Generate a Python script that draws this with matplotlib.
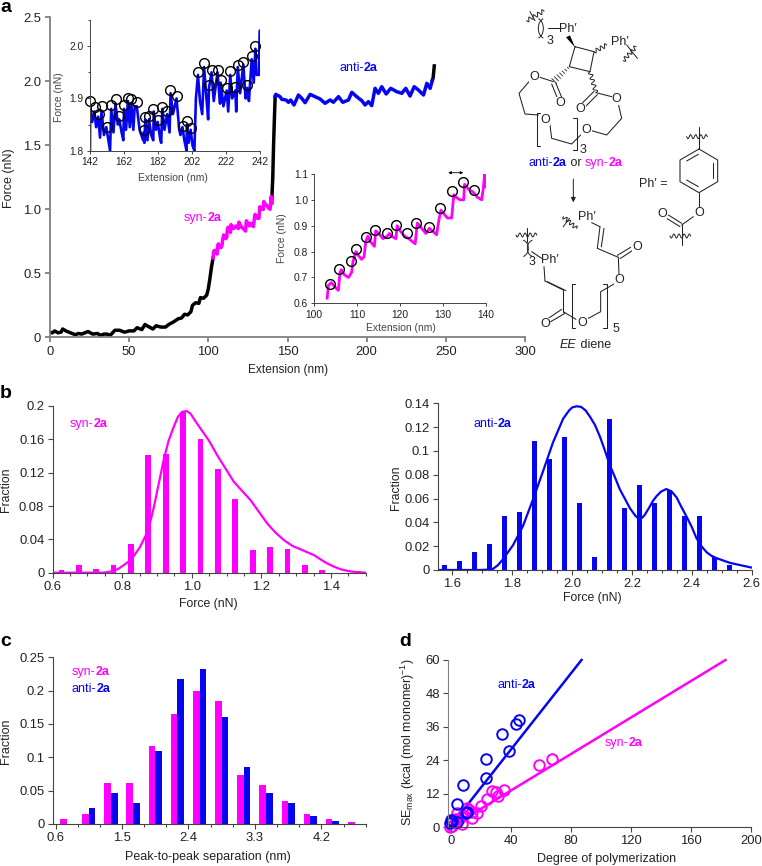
import numpy as np
import matplotlib
matplotlib.use("Agg")
import matplotlib.pyplot as plt
from matplotlib.ticker import MultipleLocator, FixedLocator, FuncFormatter
from matplotlib.transforms import Affine2D
from matplotlib.patches import Polygon, Arc

plt.rcParams['font.family'] = ['Liberation Sans', 'DejaVu Sans']
plt.rcParams['mathtext.fontset'] = 'custom'
plt.rcParams['mathtext.rm'] = 'Liberation Sans'
plt.rcParams['mathtext.it'] = 'Liberation Sans:italic'
plt.rcParams['mathtext.bf'] = 'Liberation Sans:bold'

W, H = 762, 866
MAG = '#FF00FF'
BLU = '#0505F0'
TXT = '#222222'
GRY = '#808080'
DRK = '#444444'

# ---------- panel a data ----------
trace_black1 = [(0,.04),(1.5,.035),(3,.05),(5,.035),(7,.04),(8,.065),(10,.05),(12,.04),(14,.03),(16,.02),(18,.03),(20,.025),
 (22,.035),(24,.045),(27,.025),(30,.03),(32,.015),(34,.025),(36,.025),(38,.015),(41,.055),(44,.055),(47,.04),(50,.05),
 (53,.05),(55,.075),(58,.06),(60,.1),(62,.085),(65,.065),(67,.09),(70,.08),(73,.08),(75,.1),(78,.12),(81,.145),(83,.15),
 (85,.18),(87,.175),(89,.2),(90,.25),(92,.27),(94,.265),(95,.31),(97,.305),(99,.33),(100,.38),(101,.46),(102,.55),(103,.62)]
trace_syn = [(103,.62),(103.3,.67),(104,.68),(105,.66),(105.6,.65),(106,.72),(106.3,.73),(107,.71),(108,.70),(108.7,.72),
 (109,.76),(109.7,.80),(110,.79),(111,.77),(111.6,.78),(112,.84),(112.5,.86),(113,.84),(114,.82),(114.3,.88),(115,.87),
 (116,.85),(117,.86),(117.5,.87),(118,.86),(119,.85),(119.3,.90),(120,.88),(121,.86),(122,.85),(123.5,.83),(124,.91),
 (125,.89),(126,.87),(126.8,.89),(127.5,.88),(128.5,.865),(129,.92),(129.5,.96),(130,.95),(131,.93),(132,.93),(132.5,1.02),
 (133,1.01),(134,1.0),(134.8,1.0),(135,1.06),(136,1.04),(137,1.03),(138,1.01),(139,1.0),(139.4,1.05),(139.7,1.10),(140,1.05)]
trace_black2 = [(140,1.05),(140.7,1.25),(141.2,1.5),(141.7,1.7),(142.2,1.88)]
trace_anti = [(142.2,1.88),(142.6,1.898),(145.3,1.88),(146.4,1.859),(149.1,1.854),(150.6,1.836),(152,1.854),(154.1,1.815),
 (156.9,1.893),(159,1.867),(161.1,1.833),(164.3,1.898),(167.4,1.88),(170.6,1.862),(173.7,1.828),(176.9,1.854),(179,1.836),
 (182.2,1.88),(184.9,1.836),(188.5,1.854),(190.6,1.914),(193.7,1.88),(196.9,1.849),(199,1.815),(201.1,1.841),(203.2,1.81),
 (205.3,1.945),(207.4,1.906),(209.5,1.958),(212.3,1.901),(215.2,1.945),(219,1.919),(222.2,1.906),(224.7,1.945),(227.4,1.885),
 (230,1.958),(232.7,1.932),(235.9,1.893),(238,1.984),(240.1,1.945),(241.5,2.01)]
trace_black3 = [(241.5,2.01),(242,2.03),(242.7,2.12)]

inset1_trace = [(142,1.80),(142.1,1.885),(143.3,1.855),(144.6,1.875),(145.6,1.845),(146.8,1.865),(147.9,1.825),(148.8,1.875),
 (150.2,1.83),(151.6,1.845),(153.8,1.80),(154.5,1.88),(155.8,1.835),(157,1.89),(158.4,1.85),(159.2,1.86),(160.6,1.835),
 (161.6,1.82),(162,1.88),(163.2,1.84),(164.3,1.895),(165.4,1.845),(166.3,1.89),(167.5,1.84),(168.3,1.885),(169.5,1.885),
 (171.2,1.84),(173.2,1.82),(173.6,1.835),(174,1.815),(174.5,1.86),(175.8,1.82),(176.7,1.86),(178,1.83),(179.2,1.82),
 (179.5,1.875),(180.8,1.84),(181.8,1.855),(183.4,1.82),(183.9,1.815),(184.5,1.88),(185.8,1.84),(187.4,1.87),(188.8,1.835),
 (189.4,1.91),(190.8,1.87),(192.9,1.90),(194.5,1.84),(195.2,1.83),(196.4,1.845),(197.5,1.82),(198.8,1.80),(199,1.85),
 (200,1.815),(201.2,1.84),(202.3,1.81),(203.4,1.80),(204.3,1.90),(205.5,1.945),(206.7,1.895),(208,1.87),(209.1,1.96),
 (210.5,1.90),(211.5,1.86),(212,1.92),(213.5,1.95),(214.8,1.895),(217,1.95),(218.5,1.89),(218.9,1.93),(220.5,1.885),
 (222.4,1.915),(223.3,1.875),(224.5,1.945),(225.6,1.90),(227.5,1.915),(228,1.875),(228.9,1.96),(230.3,1.91),(232.2,1.965),
 (233.5,1.90),(234.5,1.92),(235.5,1.895),(237.1,1.975),(238.3,1.93),(239.3,1.995),(240,1.945),(241.5,1.945),(242,2.03),(242,1.96)]
inset1_x = [142,144.9,147.1,148.9,151.8,154.5,157.1,159.3,162,164.4,166.3,169.5,173.6,174.5,176.7,179.1,181.8,184.5,187.5,
 189.3,193,196.5,198.9,201.2,205.5,209.1,212,213.6,217.1,218.9,222.4,224.5,227.5,228.9,232.2,234.5,237.1,239.3]
inset1_y = [1.895,1.883,1.870,1.885,1.846,1.887,1.898,1.867,1.888,1.901,1.898,1.894,1.839,1.864,1.866,1.880,1.858,1.884,1.876,
 1.917,1.905,1.847,1.857,1.843,1.951,1.967,1.925,1.954,1.955,1.936,1.920,1.952,1.921,1.964,1.969,1.925,1.981,2.000]
inset1_xticks = [142, 162, 182, 202, 222, 242]
inset2_x = [103.6,105.8,108.5,109.6,112,114.1,116.9,119,121.7,123.8,126.7,129.3,132,134.7,137.3]
inset2_y = [.673,.731,.765,.811,.856,.884,.871,.903,.873,.912,.894,.967,1.033,1.07,1.038]

# ---------- panel b data ----------
syn_bin = [.625,.675,.725,.775,.825,.875,.925,.975,1.025,1.075,1.125,1.175,1.225,1.275,1.325,1.375,1.475]
syn_frac = [.003,.009,.005,.009,.035,.141,.143,.193,.16,.125,.088,.027,.031,.029,.009,.003,.002]
syn_cx = [.6,.746,.775,.79,.804,.82,.833,.85,.868,.88,.89,.905,.919,.933,.948,.96,.972,.985,.996,1.01,1.025,1.05,1.073,1.097,1.121,1.145,
 1.169,1.193,1.217,1.241,1.265,1.29,1.313,1.335,1.352,1.37,1.39,1.41,1.429,1.45,1.467,1.5]
syn_cy = [0,0,.002,.005,.009,.014,.02,.03,.045,.06,.077,.107,.135,.158,.175,.187,.193,.194,.191,.182,.173,.158,.141,.125,.109,.098,
 .087,.073,.059,.048,.039,.032,.028,.024,.021,.016,.011,.007,.004,.002,.001,0]
anti_bin = [1.575,1.625,1.675,1.725,1.775,1.825,1.875,1.925,1.975,2.025,2.075,2.125,2.175,2.225,2.275,2.325,2.375,2.425,2.475,2.525]
anti_frac = [.004,.0075,.015,.022,.045,.0485,.108,.093,.112,.056,.011,.127,.052,.071,.056,.067,.045,.045,.011,.004]
anti_cx = [1.552,1.691,1.72,1.736,1.752,1.769,1.803,1.836,1.869,1.903,1.936,1.97,1.99,2.0,2.015,2.03,2.045,2.059,2.076,2.093,2.11,2.126,2.143,
 2.159,2.176,2.193,2.21,2.226,2.242,2.259,2.27,2.282,2.298,2.315,2.332,2.349,2.365,2.382,2.4,2.415,2.432,2.449,2.465,2.482,2.527,2.6]
anti_cy = [0,0,.0003,.001,.004,.009,.021,.037,.059,.083,.107,.127,.134,.1365,.1375,.137,.134,.129,.122,.112,.1,.088,.078,
 .068,.06,.052,.046,.042,.046,.053,.058,.062,.066,.068,.066,.061,.053,.045,.036,.027,.02,.015,.012,.01,.006,.002]

# ---------- panel c data ----------
sep_bin = [.75,1.05,1.35,1.65,1.95,2.25,2.55,2.85,3.15,3.45,3.75,4.05,4.35,4.65]
sep_syn = [.007,.015,.061,.061,.117,.165,.199,.184,.074,.059,.035,.015,.007,.003]
sep_anti = [0,.024,.047,.032,.109,.218,.233,.160,.086,.047,.032,.012,.004,0]

# ---------- panel d data ----------
dp_anti = [-.5,0,.5,4.2,4.2,8.2,10.9,10,23.3,23.3,34,38.4,43,45.5]
se_anti = [1.3,2.5,2,1.9,8.1,15,5.5,5,17.5,24.3,33.3,27.3,36.9,38.4]
dp_syn = [-.5,.5,1.5,3.3,4.2,5.5,7,8.2,9,10.9,12,13.8,13.8,17.5,20,24,27,30,31.5,35.3,58.7,67.5]
se_syn = [0,.2,2.5,3,5.1,3,1,4.3,5.5,6.7,6,3.4,5.5,4.9,7.7,10.2,13,12.5,11.3,13.2,22.3,24.5]
fit_dp_anti = [0,87]
fit_se_anti = [.5,60]
fit_dp_syn = [0,183]
fit_se_syn = [0,60]

fig = plt.figure(figsize=(W/100, H/100), dpi=100)
px = Affine2D().scale(1/W, -1/H).translate(0, 1) + fig.transFigure


def axpx(l, t, r, b, **kw):
    ax = fig.add_axes([l/W, 1-b/H, (r-l)/W, (b-t)/H], **kw)
    ax.patch.set_alpha(0)
    return ax


def style(ax, size=9.4, spine=DRK, lw=0.8, tl=3.5, pad=2.5, col=TXT):
    for s in ('top', 'right'):
        ax.spines[s].set_visible(False)
    for s in ('left', 'bottom'):
        ax.spines[s].set_color(spine)
        ax.spines[s].set_linewidth(lw)
    ax.tick_params(which='major', direction='out', length=tl, width=lw, color=spine, labelsize=size, labelcolor=col, pad=pad)
    ax.tick_params(which='minor', direction='out', length=tl*0.7, width=lw, color=spine)


def labels(ax, xl, xpos, yl, ypos, size=9, col=TXT, xsize=None):
    ax.set_xlabel(xl, fontsize=xsize or size, color=col, ha='center', va='center')
    ax.xaxis.set_label_coords(xpos[0], xpos[1], transform=px)
    ax.set_ylabel(yl, fontsize=size, color=col, ha='center', va='center')
    ax.yaxis.set_label_coords(ypos[0], ypos[1], transform=px)


def plot_trace(ax, pts, color, lw):
    a = np.array(pts)
    ax.plot(a[:, 0], a[:, 1], color=color, lw=lw, solid_joinstyle='round')


def mixed(x, y, parts, size=9, rotation=0):
    """parts: list of (text, colour, bold, italic) laid end to end, x,y in pixels."""
    r = fig.canvas.get_renderer()
    for s, c, b, i in parts:
        t = fig.text(x/W, 1-y/H, s, color=c, fontsize=size, fontweight='bold' if b else 'normal',
                     fontstyle='italic' if i else 'normal', ha='left', va='center', zorder=20)
        x = t.get_window_extent(r).x1


def one_dec(v, _):
    return f'{v:.1f}'


def trim(v, _):
    return '0' if abs(v) < 1e-9 else f'{v:g}'


# ---------- a main ----------
ax = axpx(50, 17.3, 525, 337.3)
style(ax, spine=GRY, lw=1.3, tl=3.5, pad=3)
ax.set_xlim(0, 300); ax.set_ylim(0, 2.5)
ax.xaxis.set_major_locator(MultipleLocator(50))
ax.yaxis.set_major_locator(MultipleLocator(0.5))
ax.yaxis.set_major_formatter(FuncFormatter(lambda v, _: '0' if v == 0 else f'{v:.1f}'))
plot_trace(ax, trace_black1, 'black', 2.5)
plot_trace(ax, trace_black2, 'black', 2.5)
plot_trace(ax, trace_black3, 'black', 2.5)
plot_trace(ax, trace_syn, MAG, 2.5)
plot_trace(ax, trace_anti, BLU, 2.5)
labels(ax, 'Extension (nm)', (288, 370), 'Force (nN)', (9, 178), size=9, xsize=8.6)

# ---------- a inset 1 ----------
ax = axpx(90, 20, 260, 150.7)
style(ax, size=7.4, spine=DRK, lw=0.7, tl=2.5, pad=2)
ax.set_xlim(142, 242); ax.set_ylim(1.8, 2.05)
ax.xaxis.set_major_locator(FixedLocator(inset1_xticks))
ax.yaxis.set_major_locator(FixedLocator([1.8, 1.9, 2.0]))
ax.yaxis.set_minor_locator(FixedLocator([1.85, 1.95, 2.05]))
plot_trace(ax, inset1_trace, BLU, 1.9)
ax.plot(inset1_x, inset1_y, 'o', mfc='none', mec='black', mew=1.0, ms=7, clip_on=False)
labels(ax, 'Extension (nm)', (173, 178), 'Force (nN)', (59, 97), size=7.5, col=DRK)

# ---------- a inset 2 ----------
ax = axpx(314.3, 174, 486, 303.3)
style(ax, size=7.4, spine=DRK, lw=0.7, tl=2.5, pad=2)
ax.set_xlim(100, 140); ax.set_ylim(0.6, 1.1)
ax.xaxis.set_major_locator(MultipleLocator(10))
ax.yaxis.set_major_locator(MultipleLocator(0.1))
plot_trace(ax, trace_syn, MAG, 2.0)
ax.plot(inset2_x, inset2_y, 'o', mfc='none', mec='black', mew=1.0, ms=7, clip_on=False)
ax.annotate('', xy=(131.2, 1.105), xytext=(134.7, 1.105), annotation_clip=False,
            arrowprops=dict(arrowstyle='<|-|>', color='black', lw=0.6, mutation_scale=4, shrinkA=0, shrinkB=0))
labels(ax, 'Extension (nm)', (400.7, 328), 'Force (nN)', (282, 238), size=7.5, col=DRK)

# ---------- b left ----------
ax = axpx(52.7, 406, 365.7, 572.7)
style(ax)
ax.set_xlim(0.6, 1.5); ax.set_ylim(0, 0.2)
ax.bar(syn_bin, syn_frac, width=0.0165, color=MAG)
ax.plot(syn_cx, syn_cy, color=MAG, lw=1.6)
ax.xaxis.set_major_locator(FixedLocator([.6, .8, 1.0, 1.2, 1.4]))
ax.xaxis.set_minor_locator(MultipleLocator(0.05))
ax.xaxis.set_major_formatter(FuncFormatter(one_dec))
ax.yaxis.set_major_locator(MultipleLocator(0.04))
ax.yaxis.set_major_formatter(FuncFormatter(trim))
labels(ax, 'Force (nN)', (208, 604), 'Fraction', (6.5, 490), size=8.8)

# ---------- b right ----------
ax = axpx(438, 403.3, 751.7, 570)
style(ax)
ax.set_xlim(1.552, 2.6); ax.set_ylim(0, 0.14)
ax.bar(anti_bin, anti_frac, width=0.0167, color=BLU)
ax.plot(anti_cx, anti_cy, color=BLU, lw=1.6)
ax.xaxis.set_major_locator(FixedLocator([1.6, 1.8, 2.0, 2.2, 2.4, 2.6]))
ax.xaxis.set_minor_locator(FixedLocator(list(np.arange(1.55, 2.61, 0.05))))
ax.xaxis.set_major_formatter(FuncFormatter(one_dec))
ax.yaxis.set_major_locator(MultipleLocator(0.02))
ax.yaxis.set_major_formatter(FuncFormatter(trim))
labels(ax, 'Force (nN)', (592, 598), 'Fraction', (396, 488), size=8.8)

# ---------- c ----------
ax = axpx(53.3, 657.3, 365.7, 824)
style(ax)
ax.set_xlim(0.57, 4.8); ax.set_ylim(0, 0.25)
sep = np.array(sep_bin)
ax.bar(sep-0.045, sep_syn, width=0.09, color=MAG)
ax.bar(sep+0.045, sep_anti, width=0.09, color=BLU)
ax.xaxis.set_major_locator(FixedLocator([.6, 1.5, 2.4, 3.3, 4.2]))
ax.xaxis.set_minor_locator(MultipleLocator(0.3))
ax.xaxis.set_major_formatter(FuncFormatter(one_dec))
ax.yaxis.set_major_locator(MultipleLocator(0.05))
ax.yaxis.set_major_formatter(FuncFormatter(trim))
labels(ax, 'Peak-to-peak separation (nm)', (208, 857), 'Fraction', (6.5, 741))

# ---------- d ----------
ax = axpx(448.3, 660, 751, 827)
style(ax)
ax.spines['left'].set_color(GRY)
ax.set_xlim(-1.8, 200); ax.set_ylim(0, 60)
ax.plot(fit_dp_syn, fit_se_syn, color=MAG, lw=1.8, clip_on=False)
ax.plot(fit_dp_anti, fit_se_anti, color=BLU, lw=1.8, clip_on=False)
ax.plot(dp_syn, se_syn, 'o', mfc='none', mec=MAG, mew=1.4, ms=7.6, clip_on=False)
ax.plot(dp_anti, se_anti, 'o', mfc='none', mec=BLU, mew=1.4, ms=7.6, clip_on=False)
ax.xaxis.set_major_locator(MultipleLocator(40))
ax.yaxis.set_major_locator(MultipleLocator(12))
labels(ax, 'Degree of polymerization', (607, 859),
       r'SE$_{\mathrm{max}}$ (kcal (mol monomer)$^{-1}$)', (408, 742))

# ---------- coloured labels ----------
fig.canvas.draw()
mixed(184, 218, [('syn-', MAG, False, False), ('2a', MAG, True, False)])
mixed(339, 68, [('anti-', BLU, False, False), ('2a', BLU, True, False)])
mixed(70, 424, [('syn-', MAG, False, False), ('2a', MAG, True, False)])
mixed(473, 424, [('anti-', BLU, False, False), ('2a', BLU, True, False)])
mixed(72, 672, [('syn-', MAG, False, False), ('2a', MAG, True, False)])
mixed(72, 689, [('anti-', BLU, False, False), ('2a', BLU, True, False)])
mixed(497, 685, [('anti-', BLU, False, False), ('2a', BLU, True, False)])
mixed(605, 743, [('syn-', MAG, False, False), ('2a', MAG, True, False)])

# panel letters
for s, x, y in [('a', 0, 7), ('b', 0, 393), ('c', 0, 641), ('d', 399, 641)]:
    fig.text(x/W, 1-y/H, s, fontsize=14, fontweight='bold', color='black', ha='left', va='center')

# ---------- scheme (zoom-space coordinates: 3 units per pixel from x=510, y=0) ----------
sc = fig.add_axes([510/W, 1-380/H, 252/W, 380/H], zorder=15)
sc.set_xlim(0, 756); sc.set_ylim(1140, 0); sc.axis('off'); sc.patch.set_alpha(0)
BK = '#222222'
bonds = [
 [(113,85),(150,85)],
 [(195,140),(252,155),(240,215),(178,200),(195,140)],
 [(130,245),(90,232)],
 [(57,245),(27,280),(45,342),(85,345)],
 [(120,375),(125,415),(185,432),(212,405)],
 [(245,392),(290,405),(335,355),(325,312)],
 [(305,290),(258,278)],
 [(80,340),(90,340)],[(80,340),(80,437)],[(80,437),(90,437)],
 [(190,353),(200,353),(200,450),(190,450)],
 [(567,447),(623,480),(623,545),(567,578),(510,545),(510,480),(567,447)],
 [(567,380),(567,447)],[(567,578),(567,625)],
 [(550,650),(515,675)],[(515,675),(515,735)],
 [(245,668),(270,680)],[(270,680),(262,745)],[(262,745),(325,772)],
 [(325,772),(327,825)],[(312,852),(272,875),(272,935),(235,955)],
 [(198,958),(160,935)],[(160,935),(160,870)],[(160,870),(105,843)],[(105,843),(102,800)],
 [(65,755),(95,775)],
 [(195,852),(185,852),(185,985),(195,985)],[(280,852),(290,852),(290,985),(280,985)],
 [(50,685),(50,725)],[(567,395),(567,425)],
]
doubles = [
 [(137,248),(155,292)],[(125,252),(143,296)],
 [(252,274),(218,308)],[(262,284),(228,318)],
 [(530,483),(565,463)],[(608,490),(608,535)],[(530,540),(565,560)],
 [(515,670),(475,645)],[(510,680),(470,655)],
 [(282,685),(274,740)],
 [(322,766),(362,742)],[(330,776),(370,750)],
 [(168,872),(112,845)],
 [(155,928),(115,955)],[(165,940),(122,965)],
]
for b in bonds + doubles:
    a = np.array(b)
    sc.plot(a[:, 0], a[:, 1], color=BK, lw=0.75, solid_capstyle='round')


def wavy(p, q, n=4, amp=6, col=BK):
    p, q = np.array(p, float), np.array(q, float)
    t = np.linspace(0, 1, 80)
    d = q-p
    nrm = np.array([-d[1], d[0]])/np.hypot(*d)
    pts = p[None]+t[:, None]*d+(amp*np.sin(2*np.pi*n*t))[:, None]*nrm
    sc.plot(pts[:, 0], pts[:, 1], color=col, lw=0.7)


for w in [((50,62),(102,33),4),((252,155),(290,135),3),((340,182),(378,140),4),((240,215),(258,278),4),
          ((530,410),(592,410),4),((480,708),(542,708),4),((160,650),(200,685),4),((18,705),(80,705),4)]:
    wavy(w[0], w[1], w[2])
for seg in [[(60,35),(75,62)],[(350,135),(382,175)],[(160,680),(178,655)],[(515,695),(515,725)]]:
    a = np.array(seg)
    sc.plot(a[:, 0], a[:, 1], color=BK, lw=0.7)

sc.add_patch(Polygon([(195,142),(168,112),(180,106)], closed=True, color='black', lw=0))
# hashed bond
for t in np.linspace(0.08, 0.95, 7):
    c = np.array((178,200))+t*(np.array((130,245))-np.array((178,200)))
    e = np.array([6, 6])*(0.2+t)
    sc.plot([c[0]-e[0], c[0]+e[0]], [c[1]-e[1], c[1]+e[1]], color=BK, lw=0.6)
# parentheses
for (cx, cy, w_, h_, th1, th2) in [(80,85,40,60,-80,80),(105,85,40,60,100,260),(35,745,40,50,-80,80),(72,745,40,50,100,260)]:
    sc.add_patch(Arc((cx, cy), w_, h_, theta1=th1, theta2=th2, color=BK, lw=0.7))

FS = 9
for s, x, y in [("Ph\u2032",175,87),("Ph\u2032",330,125),("O",72,232),("O",150,310),("O",105,360),("O",230,390),("O",320,297),("O",212,328),
                ("3",120,123),("3",218,450),("Ph\u2032",232,650),("Ph\u2032",120,780),("3",67,785),("O",382,742),("O",327,840),("O",218,970),
                ("O",105,972),("5",318,988),("O",567,640),("O",457,642),("Ph\u2032 =",430,553)]:
    sc.text(x, y, s, fontsize=FS, color=BK, ha='center', va='center',
            bbox=dict(boxstyle='square,pad=0.02', fc='white', ec='none') if s == 'O' else None)
mixed(510+55/3, 163, [('anti-', BLU, False, False), ('2a', BLU, True, False), (' or ', BK, False, False),
                      ('syn-', MAG, False, False), ('2a', MAG, True, False)])
mixed(510+150/3, 345, [('EE', BK, False, True), (' diene', BK, False, False)])
sc.annotate('', xy=(190,607), xytext=(190,537),
            arrowprops=dict(arrowstyle='-|>', color=BK, lw=0.7, mutation_scale=7, shrinkA=0, shrinkB=0))

fig.savefig('out.png', dpi=100)
